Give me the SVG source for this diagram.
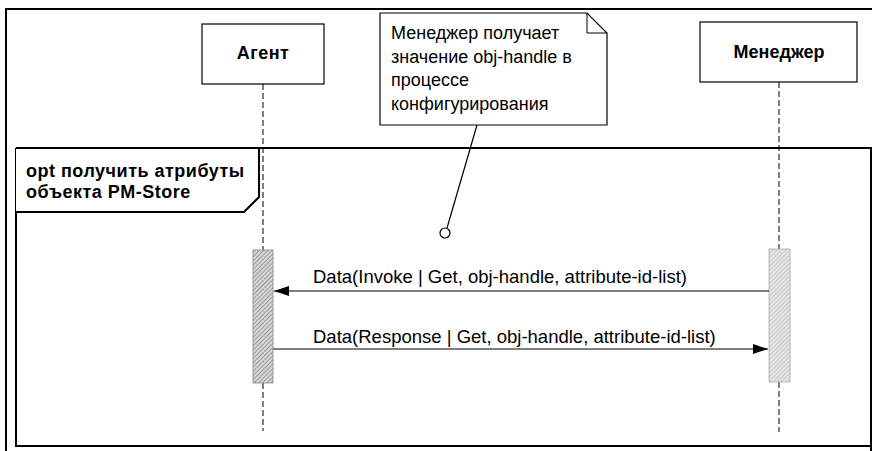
<svg xmlns="http://www.w3.org/2000/svg" width="872" height="451" viewBox="0 0 872 451">
<style>
  .box { fill: #fff; stroke: #000; stroke-width: 1.2; }
  .lifeline { stroke: #000; stroke-width: 1; stroke-dasharray: 6 3; fill: none; }
  .msg { stroke: #000; stroke-width: 1.2; fill: none; }
  .t { font-family: "Liberation Sans", Arial, sans-serif; font-size: 18px; fill: #000; }
  .m { font-size: 18.5px; }
  .b { font-weight: bold; }
  .o { letter-spacing: 0.5px; }
</style>
<defs>
  <pattern id="hatchA" patternUnits="userSpaceOnUse" width="3" height="3" patternTransform="rotate(45)">
    <rect width="3" height="3" fill="#d8d8d8"/>
    <line x1="0" y1="0" x2="0" y2="3" stroke="#707070" stroke-width="1.2"/>
  </pattern>
  <pattern id="hatchM" patternUnits="userSpaceOnUse" width="3" height="3" patternTransform="rotate(45)">
    <rect width="3" height="3" fill="#e4e4e4"/>
    <line x1="0" y1="0" x2="0" y2="3" stroke="#b0b0b0" stroke-width="1"/>
  </pattern>
  <marker id="arrow" markerWidth="16" markerHeight="10" refX="15" refY="5" orient="auto" markerUnits="userSpaceOnUse">
    <path d="M0,0 L15,5 L0,10 Z" fill="#000"/>
  </marker>
</defs>

<!-- outer frame -->
<path d="M6,451 L6,9 L872,9" fill="none" stroke="#000" stroke-width="2"/>

<!-- opt fragment -->
<g id="opt">
  <path d="M16,148 L871,148 L871,451 M871,446 L16,446 L16,148" fill="none" stroke="#000" stroke-width="2"/>
  <path d="M16,148 L259,148 L259,197 L244,212 L16,212" fill="#fff" stroke="#000" stroke-width="2"/>
  <text class="t b o" x="26" y="177">opt получить атрибуты</text>
  <text class="t b o" x="26" y="198">объекта PM-Store</text>
</g>

<!-- lifelines & participants -->
<g id="agent">
  <rect class="box" x="202" y="24" width="122" height="60"/>
  <text class="t b" x="263" y="59" text-anchor="middle" letter-spacing="0.5">Агент</text>
  <line class="lifeline" x1="263" y1="84" x2="263" y2="250"/>
  <line class="lifeline" x1="263" y1="383" x2="263" y2="431"/>
  <rect x="253" y="250" width="20" height="133" fill="url(#hatchA)" stroke="#888" stroke-width="0.8"/>
</g>

<g id="manager">
  <rect class="box" x="700" y="22" width="157" height="60"/>
  <text class="t b" x="779" y="58" text-anchor="middle">Менеджер</text>
  <line class="lifeline" x1="779" y1="82" x2="779" y2="249"/>
  <line class="lifeline" x1="779" y1="382" x2="779" y2="432"/>
  <rect x="769" y="249" width="21" height="133" fill="url(#hatchM)" stroke="#aaa" stroke-width="0.8"/>
</g>

<!-- note -->
<g id="note">
  <path d="M380,13 L587,13 L607,33 L607,125 L380,125 Z" class="box"/>
  <path d="M587,13 L587,33 L607,33" fill="none" stroke="#000" stroke-width="1"/>
  <text class="t" x="391" y="39">Менеджер получает</text>
  <text class="t" x="391" y="63">значение obj-handle в</text>
  <text class="t" x="391" y="86">процессе</text>
  <text class="t" x="391" y="110">конфигурирования</text>
</g>

<!-- connectors -->
<g id="connectors">
  <line x1="477" y1="125" x2="447" y2="228" stroke="#000" stroke-width="1.2"/>
  <circle cx="445" cy="233" r="5" fill="#fff" stroke="#000" stroke-width="1.2"/>
  <line class="msg" x1="769" y1="291" x2="274" y2="291" marker-end="url(#arrow)"/>
  <text class="t m" x="313" y="283">Data(Invoke | Get, obj-handle, attribute-id-list)</text>
  <line class="msg" x1="273" y1="349" x2="768" y2="349" marker-end="url(#arrow)"/>
  <text class="t m" x="313" y="343">Data(Response | Get, obj-handle, attribute-id-list)</text>
</g>
</svg>
